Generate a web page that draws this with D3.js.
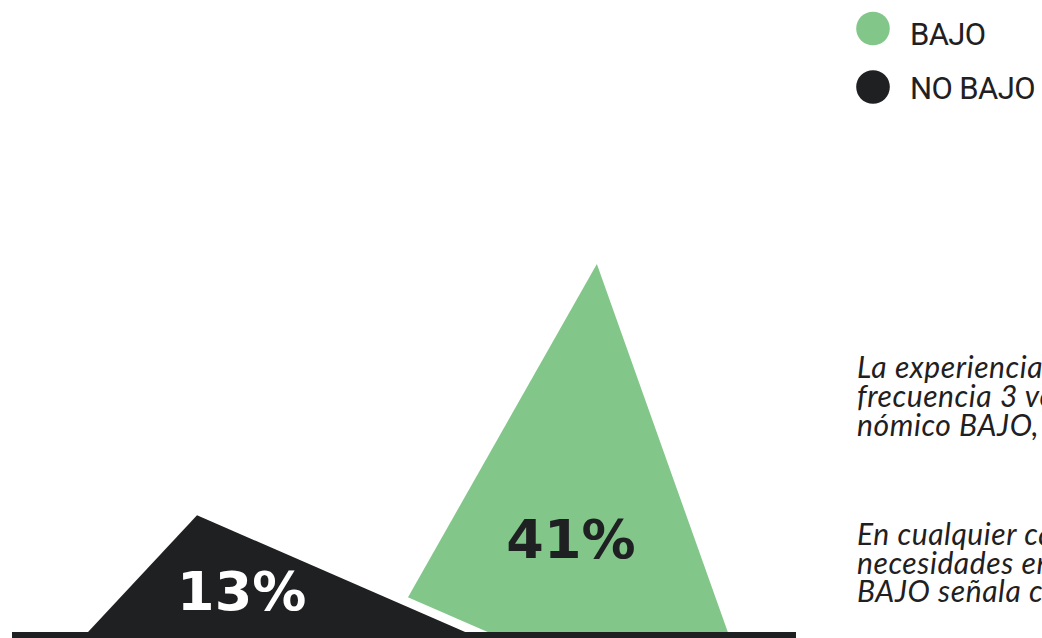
<!DOCTYPE html>
<html>
<head>
<meta charset="utf-8">
<script src="https://cdn.jsdelivr.net/npm/d3@7/dist/d3.min.js"></script>
<style>
  html, body { margin: 0; padding: 0; background: #ffffff; overflow: hidden; }
  svg { display: block; }
</style>
</head>
<body>
<svg id="chart" width="1042" height="638"></svg>
<script>
// ---- data ----
const categories = ["NO BAJO", "BAJO"];
const values = [13, 41];
const labels = ["13%", "41%"];
const colors = ["#1f2022", "#82c789"];
const labelColors = ["#ffffff", "#1f2022"];
// triangle shape along the baseline (domain units 0..100)
const baseLeft = [9.7, 48.0];
const peakAt = [23.6, 74.6];
const baseRight = [57.8, 91.3];
const labelAt = [29.3, 71.3];
const legendItems = ["BAJO", "NO BAJO"];
const legendColors = ["#82c789", "#1f2022"];
const para1 = ["La experiencia de hambre se presenta con una",
               "frecuencia 3 veces mayor en el nivel socioeco-",
               "nómico BAJO, que en el NO BAJO."];
const para2 = ["En cualquier caso, la proporción de",
               "necesidades en el nivel socioeconómico",
               "BAJO señala con claridad."];

const svg = d3.select("#chart");

const x = d3.scaleLinear().domain([0, 100]).range([12, 796]);
const y = d3.scaleLinear().domain([0, d3.max(values)]).range([632, 264]);

// extend the base corners below the baseline along the edges (hidden by the bar / canvas edge)
const ext = 2.5;
function extend(base, peak, v) {
  return base + (base - peak) * (ext / v);
}

const series = categories.map((c, i) => ({
  name: c, value: values[i], color: colors[i], label: labels[i],
  labelColor: labelColors[i],
  pts: [[extend(baseLeft[i], peakAt[i], values[i]), -ext],
        [peakAt[i], values[i]],
        [extend(baseRight[i], peakAt[i], values[i]), -ext]],
  lx: labelAt[i]
}));

const line = d3.line().x(d => x(d[0])).y(d => y(d[1])).curve(d3.curveLinearClosed);

// draw green (BAJO) first, then black on top with white outline
const order = [1, 0];
svg.append("g").selectAll("path.peak")
  .data(order.map(i => series[i]))
  .join("path")
  .attr("class", "peak")
  .attr("d", d => line(d.pts))
  .attr("fill", d => d.color)
  .attr("stroke", d => d.name === "NO BAJO" ? "#ffffff" : "none")
  .attr("stroke-width", 18)
  .attr("stroke-linejoin", "round")
  .attr("paint-order", "stroke");

// baseline bar
svg.append("rect")
  .attr("x", x(0)).attr("y", y(0))
  .attr("width", x(100) - x(0)).attr("height", 10)
  .attr("fill", "#1f2022");

// value labels
const labelBaseline = [610, 558];
svg.selectAll("text.val")
  .data(series)
  .join("text")
  .attr("class", "val")
  .attr("x", d => x(d.lx))
  .attr("y", (d, i) => labelBaseline[i])
  .attr("text-anchor", "middle")
  .attr("font-family", "DejaVu Sans")
  .attr("font-weight", "bold")
  .attr("font-size", 54)
  .attr("fill", d => d.labelColor)
  .text(d => d.label);

// legend
const lg = svg.append("g");
legendItems.forEach((t, i) => {
  lg.append("circle").attr("cx", 873).attr("cy", 28.5 + i * 58.5).attr("r", 16.8).attr("fill", legendColors[i]);
  lg.append("text").attr("x", 910).attr("y", 45 + i * 54)
    .attr("font-family", "Roboto").attr("font-size", 31)
    .attr("letter-spacing", -0.6)
    .attr("fill", "#1f2022").text(t);
});

// italic commentary
const tg = svg.append("g")
  .attr("font-family", "Lato")
  .attr("font-style", "italic")
  .attr("font-size", 30)
  .attr("letter-spacing", 0.6)
  .attr("fill", "#1f2022");
para1.forEach((t, i) => tg.append("text").attr("x", 857).attr("y", 378 + i * 29).text(t));
para2.forEach((t, i) => tg.append("text").attr("x", 857).attr("y", 545 + i * 28.5).text(t));
</script>
</body>
</html>
